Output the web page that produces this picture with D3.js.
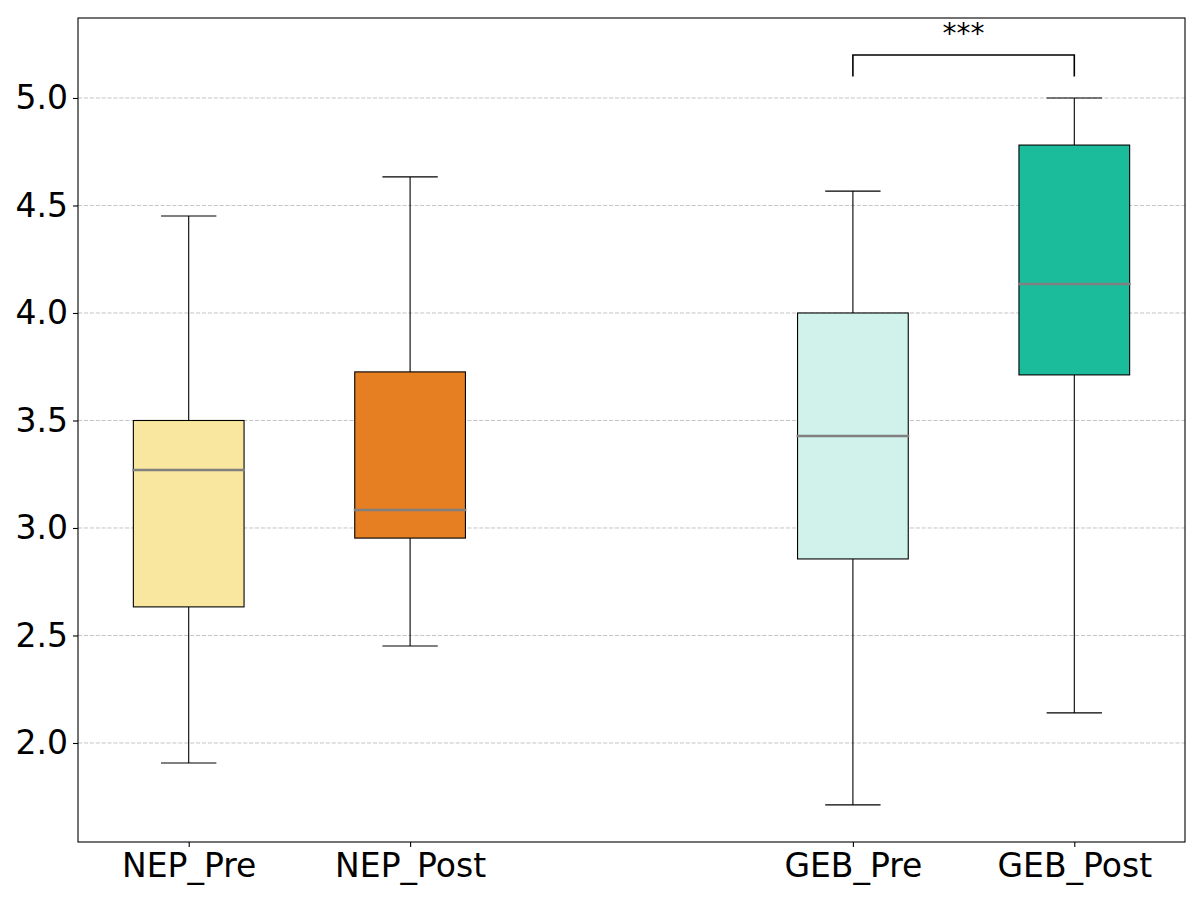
<!DOCTYPE html>
<html>
<head>
<meta charset="utf-8">
<script src="https://cdn.jsdelivr.net/npm/d3@7"></script>
<style>
  html, body { margin: 0; padding: 0; background: #fff; }
  svg { display: block; font-family: "DejaVu Sans", sans-serif; }
</style>
</head>
<body>
<svg id="chart" width="1200" height="900"></svg>
<script>
// ---- data ----
const categories = ["NEP_Pre", "NEP_Post", "GEB_Pre", "GEB_Post"];
const positions  = [1, 2, 4, 5];
const whiskerLow = [1.907, 2.451, 1.712, 2.140];
const q1         = [2.633, 2.953, 2.856, 3.712];
const medians    = [3.270, 3.084, 3.428, 4.135];
const q3         = [3.500, 3.726, 4.000, 4.781];
const whiskerHigh= [4.451, 4.633, 4.567, 5.000];
const colors     = ["#f9e79f", "#e67e22", "#d1f2eb", "#1abc9c"];
const yTicks     = [2.0, 2.5, 3.0, 3.5, 4.0, 4.5, 5.0];
const sigPair    = [2, 3];          // indices of compared groups
const sigLevels  = [5.1, 5.2];      // bracket bottom / top
const sigLabel   = "***";

// ---- layout ----
const svg = d3.select("#chart");
const L = 78, R = 1185, T = 18, B = 842;
const x = d3.scaleLinear().domain([0.5, 5.5]).range([L, R]);
const y = d3.scaleLinear().domain([1.5395, 5.372]).range([B, T]);
const boxW = 0.5, capW = 0.25;

// grid
svg.append("g").selectAll("line").data(yTicks).join("line")
  .attr("x1", L).attr("x2", R)
  .attr("y1", d => y(d)).attr("y2", d => y(d))
  .attr("stroke", "#bdbdbd").attr("stroke-width", 0.9)
  .attr("stroke-dasharray", "4.1,1.8");

const groups = categories.map((c, i) => ({
  name: c, pos: positions[i], lo: whiskerLow[i], q1: q1[i], med: medians[i],
  q3: q3[i], hi: whiskerHigh[i], color: colors[i]
}));

const g = svg.append("g").selectAll("g").data(groups).join("g");

// whiskers
g.append("line")
  .attr("x1", d => x(d.pos)).attr("x2", d => x(d.pos))
  .attr("y1", d => y(d.q1)).attr("y2", d => y(d.lo))
  .attr("stroke", "#000").attr("stroke-width", 1.1);
g.append("line")
  .attr("x1", d => x(d.pos)).attr("x2", d => x(d.pos))
  .attr("y1", d => y(d.q3)).attr("y2", d => y(d.hi))
  .attr("stroke", "#000").attr("stroke-width", 1.1);
// caps
["lo", "hi"].forEach(k => {
  g.append("line")
    .attr("x1", d => x(d.pos - capW / 2)).attr("x2", d => x(d.pos + capW / 2))
    .attr("y1", d => y(d[k])).attr("y2", d => y(d[k]))
    .attr("stroke", "#000").attr("stroke-width", 1.1);
});
// boxes
g.append("rect")
  .attr("x", d => x(d.pos - boxW / 2))
  .attr("width", d => x(d.pos + boxW / 2) - x(d.pos - boxW / 2))
  .attr("y", d => y(d.q3))
  .attr("height", d => y(d.q1) - y(d.q3))
  .attr("fill", d => d.color)
  .attr("stroke", "#000").attr("stroke-width", 1.1);
// medians
g.append("line")
  .attr("x1", d => x(d.pos - boxW / 2) - 1).attr("x2", d => x(d.pos + boxW / 2) + 1)
  .attr("y1", d => y(d.med)).attr("y2", d => y(d.med))
  .attr("stroke", "#808080").attr("stroke-width", 2.6);

// axes
const yAxis = d3.axisLeft(y).tickValues(yTicks).tickFormat(d3.format(".1f")).tickSize(5).tickPadding(5);
const xAxis = d3.axisBottom(x).tickValues(positions).tickFormat((d, i) => categories[i]).tickSize(5).tickPadding(7);

const ya = svg.append("g").attr("transform", `translate(${L},0)`).call(yAxis);
const xa = svg.append("g").attr("transform", `translate(0,${B})`).call(xAxis);
[ya, xa].forEach(a => {
  a.select(".domain").remove();
  a.selectAll(".tick line").attr("stroke", "#000").attr("stroke-width", 1.1);
  a.selectAll(".tick text").attr("fill", "#000")
    .style("font-family", "DejaVu Sans").style("font-size", "33px");
});

// frame
svg.append("rect").attr("x", L).attr("y", T).attr("width", R - L).attr("height", B - T)
  .attr("fill", "none").attr("stroke", "#000").attr("stroke-width", 1.1);

// significance bracket
const xa1 = x(positions[sigPair[0]]), xa2 = x(positions[sigPair[1]]);
svg.append("path")
  .attr("d", `M${xa1},${y(sigLevels[0])}V${y(sigLevels[1])}H${xa2}V${y(sigLevels[0])}`)
  .attr("fill", "none").attr("stroke", "#000").attr("stroke-width", 1.6);
svg.append("text")
  .attr("x", (xa1 + xa2) / 2).attr("y", y(sigLevels[1]) - 12)
  .attr("text-anchor", "middle")
  .style("font-family", "DejaVu Sans").style("font-size", "28px")
  .attr("fill", "#000")
  .text(sigLabel);
</script>
</body>
</html>
